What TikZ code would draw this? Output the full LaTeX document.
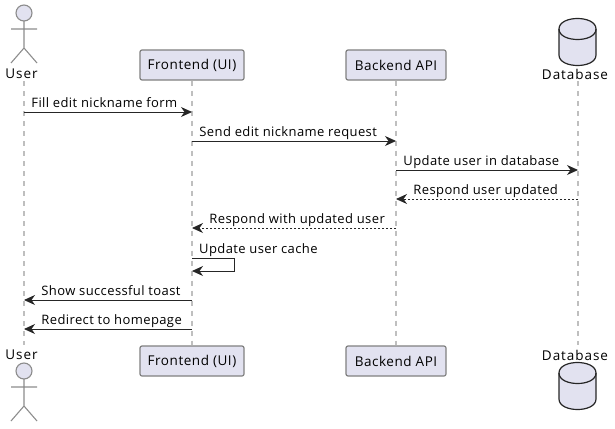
\documentclass[tikz,border=0pt]{standalone}
\usepackage{fontspec}
\setmainfont{Open Sans}
\newfontfamily\boxfont[LetterSpace=4]{Open Sans}
\newfontfamily\namefont[LetterSpace=7]{Open Sans}
\newfontfamily\msgfont[LetterSpace=3]{Open Sans}
\usetikzlibrary{arrows.meta}
\definecolor{partfill}{HTML}{E2E2F0}
\tikzset{
	partbox/.style={draw=black!50,fill=partfill,rounded corners=2pt,line width=1.2pt,minimum width=104pt,minimum height=30pt,inner sep=0pt,font=\boxfont\fontsize{13.5}{15}\selectfont},
	partname/.style={inner sep=0pt,font=\namefont\fontsize{13.5}{15}\selectfont},
	stick/.style={draw=black!45,line width=1.1pt},
	drum/.style={draw=black!85,fill=partfill,line width=1.2pt},
	life/.style={draw=black!25,line width=1.2pt,dash pattern=on 5pt off 5pt},
	msg/.style={draw=black!85,line width=0.9pt,-{Stealth[length=11pt,width=10pt,inset=3.5pt]}},
	reply/.style={msg,dash pattern=on 2pt off 2pt},
	msgtext/.style={inner sep=0pt,font=\msgfont\fontsize{13}{15}\selectfont}
}
\begin{document}
\begin{tikzpicture}[x=1pt,y=-1pt]
	\useasboundingbox (0,0) rectangle (615,428);

	\coordinate (lifeusertop) at (24,81);
	\coordinate (lifeuserbot) at (24,345);
	\coordinate (lifedbtop) at (578,81);
	\coordinate (lifedbbot) at (578,345);
	\draw[life] (lifeusertop) -- (lifeuserbot);
	\draw[life] (lifedbtop) -- (lifedbbot);

	\node[partbox] (fronttop) at (192,65) {Frontend (UI)};
	\node[partbox] (frontbot) at (192,361) {Frontend (UI)};
	\node[partbox,minimum width=100pt] (backtop) at (396,65) {Backend API};
	\node[partbox,minimum width=100pt] (backbot) at (396,361) {Backend API};
	\draw[life] (fronttop.south) -- (frontbot.north);
	\draw[life] (backtop.south) -- (backbot.north);

	\node[partname] (usertop) at (21.5,74) {User};
	\node[partname] (userbot) at (21.5,355) {User};
	\node[partname] (dbtop) at (575,74) {Database};
	\node[partname] (dbbot) at (575,355) {Database};

	\foreach \s in {0,358} {
		\begin{scope}[yshift=-\s pt]
			\draw[stick,fill=partfill] (24,13) circle (8);
			\draw[stick] (24,21) -- (24,48) (11,29) -- (37,29) (11,63) -- (24,48) -- (37,63);
		\end{scope}
	}
	\foreach \s in {0,344} {
		\begin{scope}[yshift=-\s pt]
			\draw[drum] (559,29) .. controls (559,15) and (596,15) .. (596,29) -- (596,55) .. controls (596,69) and (559,69) .. (559,55) -- cycle;
			\draw[drum,fill=none] (559,29) .. controls (559,43) and (596,43) .. (596,29);
		\end{scope}
	}

	\foreach \n/\x in {user/24,front/192,back/396,db/578}
	\foreach \m/\y in {a/112,b/141,c/170,d/199,e/228,f/258,g/271,h/300,i/329}
	\coordinate (\n\m) at (\x,\y);
	\coordinate (loopa) at (234,258);
	\coordinate (loopb) at (234,271);

	\draw[msg] (usera) -- (fronta) node[msgtext,pos=0,anchor=base west,xshift=7pt,yshift=4.5pt] {Fill edit nickname form};
	\draw[msg] (frontb) -- (backb) node[msgtext,pos=0,anchor=base west,xshift=7pt,yshift=4.5pt] {Send edit nickname request};
	\draw[msg] (backc) -- (dbc) node[msgtext,pos=0,anchor=base west,xshift=7pt,yshift=4.5pt] {Update user in database};
	\draw[reply] (dbd) -- (backd) node[msgtext,pos=1,anchor=base west,xshift=17pt,yshift=4.5pt] {Respond user updated};
	\draw[reply] (backe) -- (fronte) node[msgtext,pos=1,anchor=base west,xshift=17pt,yshift=4.5pt] {Respond with updated user};
	\draw[msg] (frontf) -- (loopa) -- (loopb) -- (frontg);
	\node[msgtext,anchor=base west] (looptext) at (199,253.5) {Update user cache};
	\draw[msg] (fronth) -- (userh) node[msgtext,pos=1,anchor=base west,xshift=17pt,yshift=4.5pt] {Show successful toast};
	\draw[msg] (fronti) -- (useri) node[msgtext,pos=1,anchor=base west,xshift=17pt,yshift=4.5pt] {Redirect to homepage};
\end{tikzpicture}
\end{document}
